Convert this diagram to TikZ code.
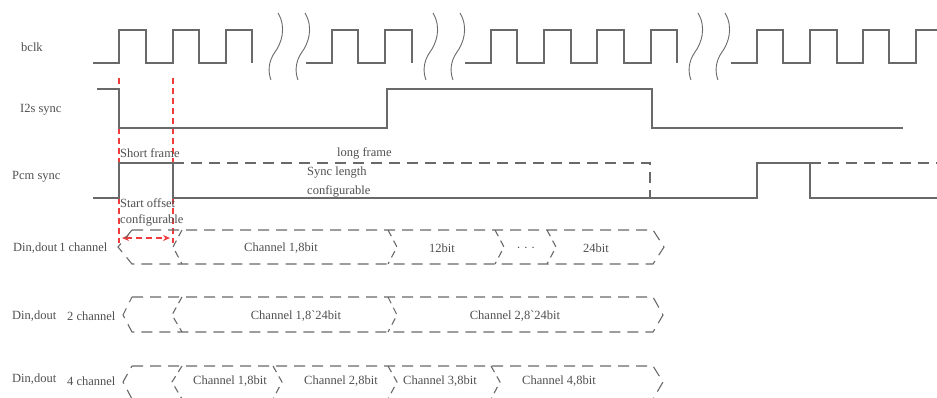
\documentclass[tikz,border=0pt]{standalone}
\usepackage{fontspec}
\setmainfont{Liberation Serif}
\usetikzlibrary{arrows.meta}
\definecolor{wire}{RGB}{105,105,105}
\definecolor{txt}{RGB}{80,80,80}
\definecolor{redmark}{RGB}{240,60,60}
\begin{document}
\begin{tikzpicture}[x=1pt,y=-1pt,
  sig/.style={draw=wire,line width=1.1pt},
  sigdash/.style={draw=wire,line width=1.1pt,dash pattern=on 11pt off 7pt},
  bus/.style={draw=wire,line width=1.1pt,dash pattern=on 11pt off 7pt},
  chev/.style={draw=wire,line width=1.1pt,dash pattern=on 7pt off 5pt},
  redline/.style={draw=redmark,line width=1.1pt,dash pattern=on 6pt off 4pt},
  lbl/.style={text=txt,font=\fontsize{12.5}{14}\selectfont,inner sep=0pt,anchor=west},
  ctr/.style={text=txt,font=\fontsize{12.5}{14}\selectfont,inner sep=0pt}]
\useasboundingbox (0,0) rectangle (937,397);
\clip (0,0) rectangle (937,397);
% red guides
\draw[redline] (119,78) -- (119,243);
\draw[redline] (173,78) -- (173,243);
\draw[redline,{Stealth[length=7pt,width=6pt]}-{Stealth[length=7pt,width=6pt]}] (122,238) -- (170,238);
% bclk
\draw[sig] (93,63) -- (119,63) -- (119,30) -- (146,30) -- (146,63) -- (173,63) -- (173,30) -- (199,30) -- (199,63) -- (226,63) -- (226,30) -- (252,30) -- (252,63);
\draw[sig] (306,63) -- (332,63) -- (332,30) -- (358,30) -- (358,63) -- (385,63) -- (385,30) -- (412,30) -- (412,63);
\draw[sig] (465,63) -- (491,63) -- (491,30) -- (517,30) -- (517,63) -- (544,63) -- (544,30) -- (571,30) -- (571,63) -- (597,63) -- (597,30) -- (624,30) -- (624,63) -- (651,63) -- (651,30) -- (677,30) -- (677,63);
\draw[sig] (731,63) -- (757,63) -- (757,30) -- (783,30) -- (783,63) -- (810,63) -- (810,30) -- (837,30) -- (837,63) -- (863,63) -- (863,30) -- (889,30) -- (889,63) -- (916,63) -- (916,30) -- (937,30);
\foreach \b in {270,297,425,452,690,717}
  \draw[draw=wire,line width=0.9pt] (\b+8,13) .. controls (\b+17,28) and (\b+11,44) .. (\b+5,52) .. controls (\b-2,62) and (\b-2,72) .. (\b+1,80);
% I2S sync
\draw[sig] (97,89) -- (119,89) -- (119,128) -- (387,128) -- (387,89) -- (652,89) -- (652,128) -- (903,128);
% PCM sync
\draw[sigdash] (173,163) -- (650,163) -- (650,198);
\draw[sigdash] (810,163) -- (937,163);
\draw[sig] (93,198) -- (119,198) -- (119,163) -- (173,163) -- (173,198) -- (757,198) -- (757,163) -- (810,163) -- (810,198) -- (937,198);
% labels
\node[lbl] (lbclk) at (21,47) {bclk};
\node[lbl] (li2s) at (20,110) {I2s sync};
\node[lbl] (lpcm) at (12,177) {Pcm sync};
\node[lbl] (ld1) at (13,248) {Din,dout\hspace{2pt}1\hspace{3pt}channel};
\node[lbl] (ld2a) at (12,316) {Din,dout};
\node[lbl] (ld2b) at (67,316) {2 channel};
\node[lbl] (ld4a) at (12,379) {Din,dout};
\node[lbl] (ld4b) at (67,381) {4 channel};
\node[lbl] (tshort) at (120,153) {Short frame};
\node[lbl] (tlong) at (337,153) {long frame};
\node[lbl] (tsync1) at (307,173) {Sync length};
\node[lbl] (tsync2) at (307,191) {configurable};
\node[lbl] (toff1) at (120,203) {Start offset};
\node[lbl] (toff2) at (120,220) {configurable};
% bus row 1
\draw[bus] (132,230) -- (653,230) -- (664,247) -- (653,264) -- (132,264) -- (118,247) -- cycle;
\draw[chev] (182,230) -- (173,247) -- (182,264);
\foreach \t in {397,504,556} \draw[chev] (\t-9,230) -- (\t,247) -- (\t-9,264);
\node[ctr] (r1a) at (281,248) {Channel 1,8bit};
\node[ctr] (r1b) at (442,248) {12bit};
\node[ctr] (r1c) at (526,248) {. . .};
\node[ctr] (r1d) at (596,248) {24bit};
% bus row 2
\draw[bus] (132,297) -- (653,297) -- (663,315) -- (653,332) -- (132,332) -- (123,315) -- cycle;
\draw[chev] (182,297) -- (172,315) -- (182,332);
\draw[chev] (388,297) -- (397,315) -- (388,332);
\node[ctr] (r2a) at (296,316) {Channel 1,8\textasciigrave 24bit};
\node[ctr] (r2b) at (515,316) {Channel 2,8\textasciigrave 24bit};
% bus row 3
\draw[bus] (132,366) -- (653,366) -- (663,382) -- (653,399) -- (132,399) -- (123,382) -- cycle;
\draw[chev] (182,366) -- (172,382) -- (182,399);
\foreach \t in {282,397,500} \draw[chev] (\t-9,366) -- (\t,382) -- (\t-9,399);
\node[ctr] (r3a) at (230,381) {Channel 1,8bit};
\node[ctr] (r3b) at (341,381) {Channel 2,8bit};
\node[ctr] (r3c) at (440,381) {Channel 3,8bit};
\node[ctr] (r3d) at (559,381) {Channel 4,8bit};
\end{tikzpicture}
\end{document}
